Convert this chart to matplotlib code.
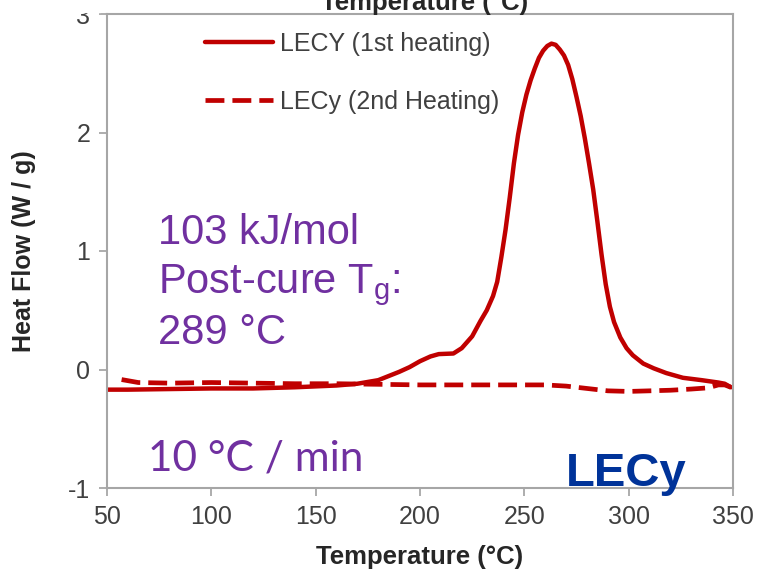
import matplotlib
matplotlib.use("Agg")
import matplotlib.pyplot as plt
from matplotlib.patches import Rectangle

plt.rcParams["axes.unicode_minus"] = False

# 1st heating (solid)
temp_1st = [50, 60, 80, 100, 120, 140, 160, 170, 180, 190, 195, 200, 205, 209, 216,
            220, 225, 229, 232, 235, 237, 239, 241, 243, 245, 247, 249, 251, 253,
            255, 257, 259, 261, 263, 265, 267, 269, 271, 273, 275, 277, 279, 281,
            283, 285, 287, 289, 291, 293, 296, 299, 302, 307, 312, 318, 326, 335,
            343, 346, 349]
flow_1st = [-0.17, -0.17, -0.165, -0.16, -0.16, -0.15, -0.135, -0.12, -0.09, -0.02,
            0.02, 0.07, 0.11, 0.13, 0.135, 0.18, 0.28, 0.41, 0.5, 0.62, 0.74, 0.95,
            1.18, 1.45, 1.74, 1.98, 2.17, 2.32, 2.44, 2.54, 2.63, 2.69, 2.73, 2.75,
            2.74, 2.7, 2.65, 2.57, 2.45, 2.3, 2.14, 1.95, 1.74, 1.52, 1.25, 0.97,
            0.72, 0.53, 0.4, 0.27, 0.18, 0.12, 0.05, 0.01, -0.03, -0.07, -0.09,
            -0.11, -0.12, -0.15]

# 2nd heating (dashed)
temp_2nd = [57, 65, 80, 100, 120, 140, 160, 180, 200, 220, 240, 260, 270, 280, 290,
            300, 310, 320, 330, 338, 343, 346, 349]
flow_2nd = [-0.085, -0.11, -0.115, -0.11, -0.115, -0.12, -0.12, -0.125, -0.13, -0.13,
            -0.13, -0.13, -0.14, -0.16, -0.18, -0.185, -0.18, -0.175, -0.165, -0.155,
            -0.13, -0.13, -0.15]

xticks = [50, 100, 150, 200, 250, 300, 350]
yticks = [-1, 0, 1, 2, 3]

red = "#C00000"
purple = "#7030A0"
gray_txt = "#404040"
font = "Liberation Sans"

fig = plt.figure(figsize=(7.59, 5.73), dpi=100)
ax = fig.add_axes([107 / 759, 1 - 488 / 573, 626 / 759, 474 / 573])

ax.plot(temp_1st, flow_1st, color=red, lw=3.2, solid_capstyle="round",
        solid_joinstyle="round", label="LECY (1st heating)")
ax.plot(temp_2nd, flow_2nd, color=red, lw=3.4, dashes=(4, 1.7),
        label="LECy (2nd Heating)")

ax.set_xlim(50, 350)
ax.set_ylim(-1, 3)
ax.set_xticks(xticks)
ax.set_yticks(yticks)
for lab in ax.get_xticklabels() + ax.get_yticklabels():
    lab.set_family(font)
    lab.set_fontsize(18)
    lab.set_color(gray_txt)
ax.tick_params(direction="out", length=6, width=1.2, color="#A0A0A0", pad=6)

for s in ax.spines.values():
    s.set_color("#A6A6A6")
    s.set_linewidth(1.5)

ax.set_xlabel("Temperature (°C)", family=font, fontsize=18.5, fontweight="bold",
              color="#262626", labelpad=12)
ax.set_ylabel("Heat Flow (W / g)", family=font, fontsize=18, fontweight="bold",
              color="#262626", labelpad=23)

leg = ax.legend(loc="upper left", bbox_to_anchor=(205 / 759, 1 - 32 / 573),
                bbox_transform=fig.transFigure, frameon=False, borderpad=0,
                borderaxespad=0, handlelength=2.7, handletextpad=0.3,
                labelspacing=1.35, prop={"family": font, "size": 18})
for t in leg.get_texts():
    t.set_color(gray_txt)

# purple notes
ax.text(74.4, 1.063, "103 kJ/mol", color=purple, fontsize=30,
        family=font, va="baseline")
ax.text(74.4, 0.641, "Post-cure T$_\\mathregular{g}$:", color=purple, fontsize=30,
        family=font, va="baseline")
ax.text(74.4, 0.219, "289 °C", color=purple, fontsize=30,
        family=font, va="baseline")
ax.text(69.6, -0.852, "10 °C / min", color=purple, fontsize=30.5,
        family="Lato", va="baseline")
ax.text(270, -0.979, "LECy", color="#003399", fontsize=34, fontweight="bold",
        family=font, va="baseline")

# cropped title at top edge
fig.text(425 / 759, 1 - 10 / 573, "Temperature (°C)", ha="center", va="baseline",
         family=font, fontsize=18.5, fontweight="bold", color="#262626")
fig.patches.append(Rectangle((0, 1 - 12 / 573), 100 / 759, 12 / 573,
                             transform=fig.transFigure, color="white", zorder=10))

fig.savefig("out.png", dpi=100)
